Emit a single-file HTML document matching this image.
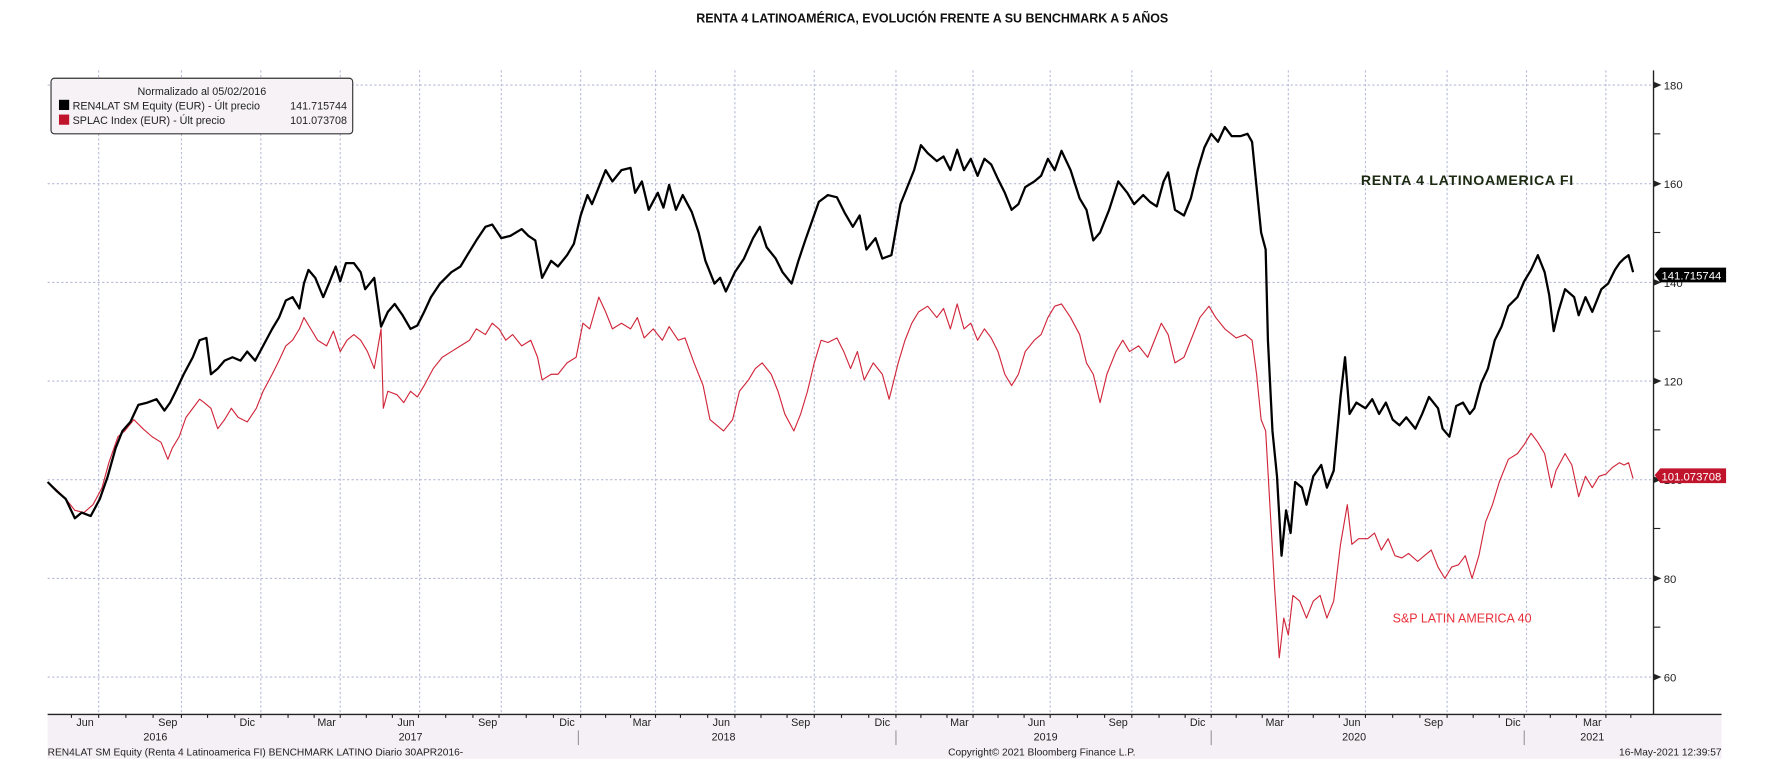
<!DOCTYPE html>
<html><head><meta charset="utf-8"><style>
html,body{margin:0;padding:0;background:#fff}
svg{display:block}
text{font-family:"Liberation Sans",sans-serif}
</style></head><body>
<svg width="1776" height="773" viewBox="0 0 1566 681.6" preserveAspectRatio="none" xmlns="http://www.w3.org/2000/svg">
<rect width="1566" height="681.6" fill="#fff"/>
<text x="822" y="20" text-anchor="middle" font-size="11" font-weight="bold" fill="#111">RENTA 4 LATINOAMÉRICA, EVOLUCIÓN FRENTE A SU BENCHMARK A 5 AÑOS</text>
<rect x="42" y="630" width="1476" height="39" fill="#f5f0f5"/>
<g stroke="#b8bcd8" stroke-width="1" stroke-dasharray="2,2">
<line x1="42" x2="1458" y1="75" y2="75"/><line x1="42" x2="1458" y1="162" y2="162"/>
<line x1="42" x2="1458" y1="249" y2="249"/><line x1="42" x2="1458" y1="336" y2="336"/>
<line x1="42" x2="1458" y1="423" y2="423"/><line x1="42" x2="1458" y1="510" y2="510"/>
<line x1="42" x2="1458" y1="597" y2="597"/>
<g transform="translate(12,0)">
<line x1="75" x2="75" y1="62" y2="630"/><line x1="148" x2="148" y1="62" y2="630"/><line x1="218" x2="218" y1="62" y2="630"/>
<line x1="288" x2="288" y1="62" y2="630"/><line x1="358" x2="358" y1="62" y2="630"/><line x1="430" x2="430" y1="62" y2="630"/>
<line x1="500" x2="500" y1="62" y2="630"/><line x1="566" x2="566" y1="62" y2="630"/><line x1="636" x2="636" y1="62" y2="630"/>
<line x1="706" x2="706" y1="62" y2="630"/><line x1="778" x2="778" y1="62" y2="630"/><line x1="846" x2="846" y1="62" y2="630"/>
<line x1="914" x2="914" y1="62" y2="630"/><line x1="986" x2="986" y1="62" y2="630"/><line x1="1056" x2="1056" y1="62" y2="630"/>
<line x1="1124" x2="1124" y1="62" y2="630"/><line x1="1192" x2="1192" y1="62" y2="630"/><line x1="1264" x2="1264" y1="62" y2="630"/>
<line x1="1334" x2="1334" y1="62" y2="630"/><line x1="1404" x2="1404" y1="62" y2="630"/>
</g></g>
<line x1="1458" x2="1458" y1="62" y2="630" stroke="#222" stroke-width="1.2"/>
<line x1="42" x2="1518" y1="630" y2="630" stroke="#222" stroke-width="1.2"/>
<g stroke="#222" stroke-width="1"><line x1="1458" x2="1464" y1="118" y2="118"/><line x1="1458" x2="1464" y1="205" y2="205"/><line x1="1458" x2="1464" y1="292" y2="292"/><line x1="1458" x2="1464" y1="379" y2="379"/><line x1="1458" x2="1464" y1="466" y2="466"/><line x1="1458" x2="1464" y1="553" y2="553"/></g>
<path stroke="#222" stroke-width="1" d="M63,630v3M87,630v3M111,630v3M135,630v3M160,630v3M183,630v3M207,630v3M230,630v3M254,630v3M277,630v3M300,630v3M323,630v3M346,630v3M369,630v3M393,630v3M417,630v3M440,630v3M464,630v3M488,630v3M512,630v3M534,630v3M556,630v3M578,630v3M600,630v3M624,630v3M648,630v3M671,630v3M694,630v3M718,630v3M742,630v3M766,630v3M790,630v3M812,630v3M835,630v3M858,630v3M880,630v3M903,630v3M926,630v3M950,630v3M974,630v3M998,630v3M1022,630v3M1045,630v3M1068,630v3M1090,630v3M1113,630v3M1136,630v3M1158,630v3M1181,630v3M1204,630v3M1228,630v3M1252,630v3M1276,630v3M1299,630v3M1322,630v3M1344,630v3M1367,630v3M1390,630v3M1416,630v3M1438,630v3"/>
<g stroke="#999" stroke-width="1"><line x1="510" x2="510" y1="644" y2="657"/><line x1="790" x2="790" y1="644" y2="657"/><line x1="1068" x2="1068" y1="644" y2="657"/><line x1="1344" x2="1344" y1="644" y2="657"/></g>
<g fill="#222"><polygon points="1458,72 1465,75 1458,78"/><polygon points="1458,159 1465,162 1458,165"/><polygon points="1458,246 1465,249 1458,252"/><polygon points="1458,333 1465,336 1458,339"/><polygon points="1458,420 1465,423 1458,426"/><polygon points="1458,507 1465,510 1458,513"/><polygon points="1458,594 1465,597 1458,600"/></g>
<g font-size="10" fill="#222">
<text x="1467" y="79">180</text><text x="1467" y="166">160</text><text x="1467" y="253">140</text><text x="1467" y="340">120</text><text x="1467" y="427">100</text><text x="1467" y="514">80</text><text x="1467" y="601">60</text>
</g>
<g font-size="9.5" fill="#222" text-anchor="middle">
<text x="75" y="640">Jun</text><text x="148" y="640">Sep</text><text x="218" y="640">Dic</text><text x="288" y="640">Mar</text><text x="358" y="640">Jun</text><text x="430" y="640">Sep</text><text x="500" y="640">Dic</text><text x="566" y="640">Mar</text><text x="636" y="640">Jun</text><text x="706" y="640">Sep</text><text x="778" y="640">Dic</text><text x="846" y="640">Mar</text><text x="914" y="640">Jun</text><text x="986" y="640">Sep</text><text x="1056" y="640">Dic</text><text x="1124" y="640">Mar</text><text x="1192" y="640">Jun</text><text x="1264" y="640">Sep</text><text x="1334" y="640">Dic</text><text x="1404" y="640">Mar</text>
<text x="137" y="653">2016</text><text x="362" y="653">2017</text><text x="638" y="653">2018</text><text x="922" y="653">2019</text><text x="1194" y="653">2020</text><text x="1404" y="653">2021</text>
</g>
<g font-size="9" fill="#222">
<text x="42" y="666">REN4LAT SM Equity (Renta 4 Latinoamerica FI) BENCHMARK LATINO  Diario 30APR2016-</text>
<text x="836" y="666">Copyright© 2021 Bloomberg Finance L.P.</text>
<text x="1518" y="666" text-anchor="end">16-May-2021 12:39:57</text>
</g>
<polyline fill="none" stroke="#d0263a" stroke-width="1" stroke-linejoin="round" points="42,425 50,432 58,440 66,450 74,452 82,445 90,430 96,408 104,385 110,380 118,370 126,378 134,385 142,390 148,405 152,395 158,385 164,368 170,360 176,352 180,355 186,360 192,378 198,370 204,360 210,368 218,372 226,360 232,345 240,330 246,318 252,305 258,300 264,290 268,280 274,290 280,300 288,305 294,292 300,310 306,300 312,295 318,300 324,310 330,325 336,290 338,360 342,345 350,348 356,355 362,345 368,350 374,340 382,325 390,315 398,310 406,305 414,300 420,290 428,295 434,285 440,290 446,300 452,295 460,305 468,300 474,315 478,335 486,330 492,330 500,320 508,315 514,285 520,290 528,262 534,275 540,290 548,285 556,290 562,280 568,298 576,290 584,300 590,288 598,300 604,298 612,320 620,340 626,370 632,375 638,380 646,370 652,345 660,335 666,325 672,320 680,330 686,345 692,365 700,380 706,365 712,345 718,320 724,300 730,302 738,298 744,310 750,325 756,310 762,335 770,320 778,330 784,352 792,320 798,300 804,285 810,275 818,270 826,280 832,272 838,290 844,268 850,290 856,285 862,300 868,290 874,298 880,310 886,330 892,340 898,330 904,310 912,300 918,295 924,280 930,270 936,268 944,280 952,295 958,320 964,330 970,355 976,330 984,310 990,300 996,310 1004,305 1012,315 1018,300 1024,285 1030,295 1036,320 1044,315 1050,300 1058,280 1066,270 1072,280 1080,290 1090,298 1098,295 1104,300 1108,330 1112,370 1116,380 1120,450 1124,520 1128,580 1132,545 1136,560 1140,525 1146,530 1152,545 1158,530 1164,525 1170,545 1176,530 1182,480 1188,445 1192,480 1198,475 1206,475 1212,470 1218,485 1224,475 1230,490 1236,492 1242,488 1250,495 1256,490 1262,485 1268,500 1274,510 1280,500 1286,498 1292,490 1298,510 1304,490 1310,460 1316,445 1322,425 1330,405 1338,400 1344,392 1350,382 1356,390 1362,400 1368,430 1372,415 1380,400 1386,410 1392,438 1398,420 1404,430 1410,420 1416,418 1422,412 1428,408 1432,410 1436,408 1440,422"/>
<polyline fill="none" stroke="#000" stroke-width="2" stroke-linejoin="round" points="42,425 50,433 58,440 66,457 72,452 80,455 88,440 95,420 102,395 108,380 115,372 122,357 130,355 138,352 145,362 150,355 155,345 162,330 170,315 176,300 182,298 186,330 192,325 198,318 205,315 212,318 218,310 225,318 232,305 240,290 246,280 252,265 258,262 264,272 268,250 272,238 278,245 285,262 290,250 296,235 300,248 305,232 312,232 318,240 322,255 330,245 336,288 342,275 348,268 355,278 362,290 368,287 374,275 380,262 388,250 398,240 406,235 412,225 420,212 428,200 434,198 442,210 450,208 460,202 466,208 472,212 478,245 486,230 492,235 500,225 506,215 512,190 518,172 522,180 528,165 534,150 540,160 548,150 556,148 560,170 566,160 572,185 580,170 585,183 590,163 596,185 602,172 610,187 616,205 622,230 630,250 635,245 640,257 648,240 656,228 664,210 670,200 676,218 684,228 690,240 698,250 704,230 710,212 716,195 722,178 730,172 738,174 745,188 752,200 758,190 764,220 772,210 778,228 786,225 794,180 800,165 806,150 812,128 818,135 826,142 832,138 838,150 844,132 850,150 856,140 862,155 868,140 874,145 880,158 886,170 892,185 898,180 904,165 912,160 918,155 924,140 930,150 936,133 944,150 952,175 958,185 964,212 970,205 978,185 986,160 994,170 1000,180 1008,172 1014,178 1020,182 1026,160 1030,152 1036,185 1044,190 1050,175 1056,150 1062,130 1068,118 1074,125 1080,112 1086,120 1094,120 1100,118 1104,125 1108,165 1112,205 1116,220 1118,300 1122,380 1126,420 1130,490 1134,450 1138,470 1142,425 1148,430 1152,445 1158,420 1165,410 1170,430 1176,415 1182,350 1186,315 1190,365 1196,355 1204,360 1210,352 1216,365 1222,355 1228,370 1234,375 1240,368 1248,378 1254,365 1260,350 1268,360 1272,378 1278,385 1284,358 1290,355 1296,365 1300,360 1306,338 1312,325 1318,300 1324,288 1330,270 1338,262 1344,248 1350,238 1356,225 1362,240 1366,260 1370,292 1374,275 1380,255 1388,262 1392,278 1398,262 1404,275 1408,265 1412,255 1418,250 1424,238 1428,232 1432,228 1436,225 1440,240"/>
<text x="1200" y="163" font-size="12.5" font-weight="bold" fill="#1c2a12" letter-spacing="0.6">RENTA 4 LATINOAMERICA FI</text>
<text x="1228" y="549" font-size="11" fill="#e8303a">S&amp;P LATIN AMERICA 40</text>
<polygon points="1459,242 1464,236 1522,236 1522,249 1464,249" fill="#000"/>
<text x="1465" y="246.5" font-size="10" fill="#fff">141.715744</text>
<polygon points="1459,419 1464,413 1522,413 1522,426 1464,426" fill="#c0142c"/>
<text x="1465" y="423.5" font-size="10" fill="#fff">101.073708</text>
<rect x="45" y="69" width="266" height="49" rx="3" fill="#f6f2f6" stroke="#333" stroke-width="1"/>
<text x="178" y="84" font-size="9.5" fill="#222" text-anchor="middle">Normalizado al 05/02/2016</text>
<rect x="52" y="88" width="9" height="9" fill="#000"/>
<rect x="52" y="101" width="9" height="9" fill="#c0142c"/>
<text x="64" y="96.5" font-size="9.5" fill="#222">REN4LAT SM Equity (EUR) - Últ precio</text>
<text x="306" y="96.5" font-size="9.5" fill="#222" text-anchor="end">141.715744</text>
<text x="64" y="109.5" font-size="9.5" fill="#222">SPLAC Index (EUR) - Últ precio</text>
<text x="306" y="109.5" font-size="9.5" fill="#222" text-anchor="end">101.073708</text>
</svg>
</body></html>
